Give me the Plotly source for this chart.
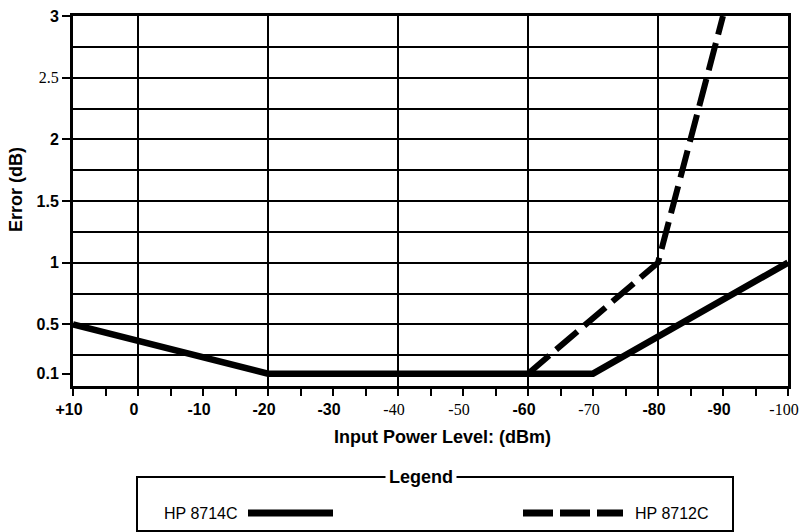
import plotly.graph_objects as go

# ---------------- data ----------------
power_levels = [10, 0, -10, -20, -30, -40, -50, -60, -70, -80, -90, -100]
hp8714c_error = [0.5, 0.367, 0.233, 0.1, 0.1, 0.1, 0.1, 0.1, 0.1, 0.4, 0.7, 1.0]
hp8712c_power = [-60, -70, -80, -90]
hp8712c_error = [0.1, 0.55, 1.0, 3.0]
x_tick_labels = ["+10", "0", "-10", "-20", "-30", "-40", "-50", "-60", "-70", "-80", "-90", "-100"]
y_tick_values = [0.1, 0.5, 1, 1.5, 2, 2.5, 3]
y_tick_labels = ["0.1", "0.5", "1", "1.5", "2", "2.5", "3"]
series_names = ["HP 8714C", "HP 8712C"]
x_grid_values = [0, -20, -40, -60, -80, -100]
y_grid_values = [0.25, 0.5, 0.75, 1, 1.25, 1.5, 1.75, 2, 2.25, 2.5, 2.75, 3]
x_minor_step = 5

# ---------------- style ----------------
SANS = "Liberation Sans, Arial, sans-serif"
SERIF = "Liberation Serif"
x_label_style = ["bold", "bold", "bold", "bold", "bold", "serif", "serif", "bold", "serif", "bold", "bold", "serif"]
y_label_style = ["bold", "bold", "bold", "bold", "bold", "serif", "bold"]


def styled(text, style):
    if style == "serif":
        return f'<span style="font-family:{SERIF};font-size:16px">{text}</span>'
    if style == "bold":
        return f"<b>{text}</b>"
    return text


label_map = {p: styled(t, s) for p, t, s in zip(power_levels, x_tick_labels, x_label_style)}
x_tick_positions = list(range(power_levels[0], power_levels[-1] - 1, -x_minor_step))
x_tick_text = [label_map.get(p, "") for p in x_tick_positions]
y_tick_text = [styled(t, s) for t, s in zip(y_tick_labels, y_label_style)]

L, R, T, B = 73, 788, 16, 386
W, H = 800, 532


def px(x):
    return (x - L) / (R - L)


def py(y):
    return (B - y) / (B - T)


fig = go.Figure()
fig.add_trace(go.Scatter(
    x=power_levels, y=hp8714c_error, mode="lines", name=series_names[0],
    line=dict(color="black", width=6.5), xaxis="x", yaxis="y",
))
fig.add_trace(go.Scatter(
    x=hp8712c_power, y=hp8712c_error, mode="lines", name=series_names[1],
    line=dict(color="black", width=6, dash="28px,9px"), xaxis="x2", yaxis="y2",
))

xrange = [power_levels[0], power_levels[-1]]
yrange = [0, 3]

fig.update_layout(
    width=W, height=H,
    margin=dict(l=L, r=W - R, t=T, b=H - B, autoexpand=False),
    paper_bgcolor="white", plot_bgcolor="white",
    showlegend=False,
    font=dict(family=SANS, size=16, color="black"),
    xaxis=dict(
        range=xrange, autorange=False, automargin=False,
        tickmode="array", tickvals=x_tick_positions, ticktext=x_tick_text,
        ticks="outside", ticklen=7, tickwidth=2, tickcolor="black",
        ticklabeloverflow="allow", ticklabelshift=4,
        showgrid=False, zeroline=False,
        showline=True, linecolor="black", linewidth=3, mirror=True,
        tickfont=dict(family=SANS, size=16, color="black"),
    ),
    yaxis=dict(
        range=yrange, autorange=False, automargin=False,
        tickmode="array", tickvals=y_tick_values, ticktext=y_tick_text,
        ticks="outside", ticklen=8, tickwidth=2, tickcolor="black",
        ticklabeloverflow="allow",
        showgrid=False, zeroline=False,
        showline=True, linecolor="black", linewidth=3, mirror=True,
        tickfont=dict(family=SANS, size=16, color="black"),
    ),
    xaxis2=dict(
        range=xrange, autorange=False, overlaying="x", anchor="y", automargin=False,
        tickmode="array", tickvals=x_grid_values, showticklabels=False, ticks="",
        showgrid=True, gridcolor="black", gridwidth=2, zeroline=False, showline=False,
    ),
    yaxis2=dict(
        range=yrange, autorange=False, overlaying="y", anchor="x", automargin=False,
        tickmode="array", tickvals=y_grid_values, showticklabels=False, ticks="",
        showgrid=True, gridcolor="black", gridwidth=2, zeroline=False, showline=False,
    ),
)

# axis titles
fig.add_annotation(
    x=px(442), y=py(437), xref="paper", yref="paper", showarrow=False,
    text="<b>Input Power Level: (dBm)</b>", font=dict(family=SANS, size=18, color="black"),
    xanchor="center", yanchor="middle",
)
fig.add_annotation(
    x=px(16), y=py(190), xref="paper", yref="paper", showarrow=False,
    text="<b>Error (dB)</b>", textangle=-90, font=dict(family=SANS, size=18, color="black"),
    xanchor="center", yanchor="middle",
)

# legend box
fig.add_shape(type="rect", xref="paper", yref="paper",
              x0=px(137), x1=px(733), y0=py(477), y1=py(531),
              line=dict(color="black", width=2), fillcolor="rgba(0,0,0,0)")
fig.add_annotation(
    x=px(421), y=py(477), xref="paper", yref="paper", showarrow=False,
    text="<b>Legend</b>", font=dict(family=SANS, size=18, color="black"),
    bgcolor="white", borderpad=3, xanchor="center", yanchor="middle",
)
fig.add_annotation(
    x=px(162), y=py(513), xref="paper", yref="paper", showarrow=False,
    text=series_names[0], font=dict(family=SANS, size=16, color="black"),
    xanchor="left", yanchor="middle",
)
fig.add_shape(type="line", xref="paper", yref="paper",
              x0=px(248), x1=px(333), y0=py(513), y1=py(513),
              line=dict(color="black", width=7))
fig.add_shape(type="line", xref="paper", yref="paper",
              x0=px(523), x1=px(623), y0=py(513), y1=py(513),
              line=dict(color="black", width=7, dash="30px,7px"))
fig.add_annotation(
    x=px(633), y=py(513), xref="paper", yref="paper", showarrow=False,
    text=series_names[1], font=dict(family=SANS, size=16, color="black"),
    xanchor="left", yanchor="middle",
)

fig.write_html(
    "out.html",
    config={"displayModeBar": False},
    post_script="document.body.style.margin='0';document.body.style.padding='0';",
)
